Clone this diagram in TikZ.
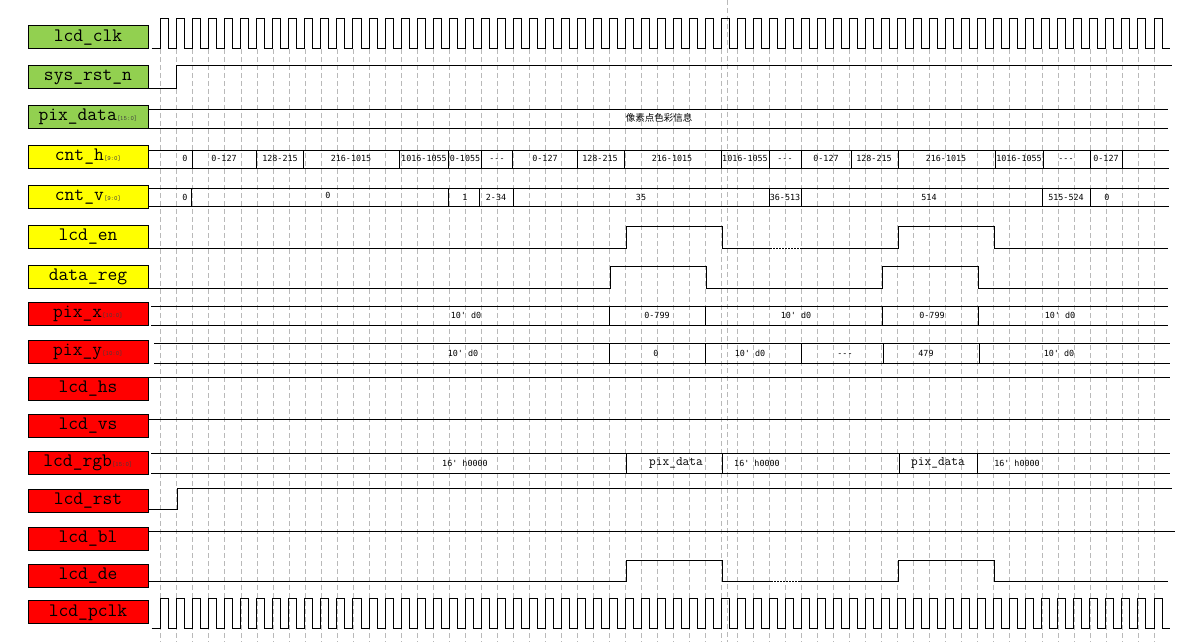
\documentclass[tikz,border=0pt]{standalone}
\usepackage{fontspec}
\usepackage{xcolor}
\newfontfamily\valfont{DejaVu Sans Mono}
\newfontfamily\cjk{Noto Sans CJK SC}
\definecolor{lgreen}{HTML}{92D050}
\definecolor{lyellow}{HTML}{FFFF00}
\definecolor{lred}{HTML}{FF0000}
\newcommand{\bw}[1]{{\fontsize{6.5}{6.5}\selectfont\color{black!75}[#1]}}
\newcommand{\dd}{-\kern0pt-\kern0pt-}

\begin{document}
\begin{tikzpicture}[x=1pt,y=-1pt]
	\tikzset{lbl/.style = {draw, line width=0.9pt, minimum width=120pt, minimum height=23pt, inner sep=0pt, font=\ttfamily\fontsize{19}{19}\selectfont}}
	\tikzset{wave/.style = {line width=0.9pt}}
	\tikzset{gridline/.style = {gray!55, line width=0.6pt, dash pattern=on 5pt off 3pt}}
	\tikzset{val/.style = {inner sep=0pt, text height=6pt, text depth=0pt, font=\valfont\fontsize{8.4}{9}\selectfont}}
	\useasboundingbox (0,0) rectangle (1203,642);
	%grid
	\foreach \i in {0,...,62}
		\draw[gridline] ({160.7+16.02*\i},49) -- ({160.7+16.02*\i},642);
	\draw[gridline] (727.3,0) -- (727.3,642);
	%labels
	\node[lbl,fill=lgreen] (clk) at (88,37.3) {lcd\_clk};
	\node[lbl,fill=lgreen] (rst) at (88,77.3) {sys\_rst\_n};
	\node[lbl,fill=lgreen] (pixdata) at (88,116.7) {pix\_data\bw{15:0}};
	\node[lbl,fill=lyellow] (cnth) at (88,156.8) {cnt\_h\bw{9:0}};
	\node[lbl,fill=lyellow] (cntv) at (88,196.8) {cnt\_v\bw{9:0}};
	\node[lbl,fill=lyellow] (en) at (88,236.7) {lcd\_en};
	\node[lbl,fill=lyellow] (datareg) at (88,277) {data\_reg};
	\node[lbl,fill=lred] (pixx) at (88,314) {pix\_x\bw{10:0}};
	\node[lbl,fill=lred] (pixy) at (88,352) {pix\_y\bw{10:0}};
	\node[lbl,fill=lred] (hs) at (88,388.8) {lcd\_hs};
	\node[lbl,fill=lred] (vs) at (88,425.7) {lcd\_vs};
	\node[lbl,fill=lred] (rgb) at (88,463.3) {lcd\_rgb\bw{15:0}};
	\node[lbl,fill=lred] (lrst) at (88,500.8) {lcd\_rst};
	\node[lbl,fill=lred] (bl) at (88,538.8) {lcd\_bl};
	\node[lbl,fill=lred] (de) at (88,575.8) {lcd\_de};
	\node[lbl,fill=lred] (pclk) at (88,612.3) {lcd\_pclk};
	%clocks
	\draw[wave] (151.7,48.3) \foreach \i in {0,...,62} { -- ({160.7+16.02*\i},48.3) -- ++(0,-30) -- ++(8.01,0) -- ++(0,30) } -- (1170,48.3);
	\draw[wave] (151.7,628.8) \foreach \i in {0,...,62} { -- ({160.7+16.02*\i},628.8) -- ++(0,-30.5) -- ++(8.01,0) -- ++(0,30.5) } -- (1170,628.8);
	%resets and constant levels
	\draw[wave] (148,88.3) -- (176.7,88.3) -- (176.7,65.7) -- (1172,65.7);
	\draw[wave] (148,509) -- (177.3,509) -- (177.3,488.3) -- (1172,488.3);
	\draw[wave] (148,377.3) -- (1170,377.3);
	\draw[wave] (148,419) -- (1170,419);
	\draw[wave] (148,531) -- (1175,531);
	%pix_data
	\draw[wave] (148,109) -- (1168,109) (148,128) -- (1168,128);
	\node[inner sep=0pt, font=\cjk\fontsize{9.5}{10}\selectfont] (pixtxt) at (659,118) {像素点色彩信息};
	%cnt_h
	\draw[wave] (148,150) -- (1169,150) (148,168) -- (1169,168);
	\foreach \s in {192.7,256.3,303.3,399.5,448.3,481.7,512.7,577.3,624.3,721.3,769,801,851,898.3,995,1043.3,1090,1122.3}
		\draw[wave] (\s,150) -- (\s,168);
	\foreach \x/\t [count=\k] in {185/0,224/0-127,280/128-215,351/216-1015,424/1016-1055,465/0-1055,497/\dd,545/0-127,600/128-215,672/216-1015,745/1016-1055,785/\dd,826/0-127,874/128-215,946/216-1015,1019/1016-1055,1066/\dd,1106/0-127}
		\node[val] (h\k) at (\x,158.5) {\t};
	%cnt_v
	\draw[wave] (148,188.7) -- (1169,188.7) (148,206.7) -- (1169,206.7);
	\foreach \s in {191.7,448.3,479.3,513.3,769,801,1042.3,1090}
		\draw[wave] (\s,188.7) -- (\s,206.7);
	\foreach \x/\y/\t [count=\k] in {185/197.5/0,328/195.5/0,465/197.5/1,496/197.5/2-34,641/197.5/35,785/197.5/36-513,929/197.5/514,1066/197.5/515-524,1107/197.5/0}
		\node[val] (v\k) at (\x,\y) {\t};
	%lcd_en
	\draw[wave] (148,248.3) -- (626.7,248.3) -- (626.7,226) -- (722.3,226) -- (722.3,248.3) -- (770,248.3);
	\draw[wave, dash pattern=on 1.5pt off 1.5pt] (770,248.3) -- (801,248.3);
	\draw[wave] (801,248.3) -- (898.3,248.3) -- (898.3,226) -- (994.3,226) -- (994.3,248.3) -- (1168,248.3);
	%data_reg
	\draw[wave] (148,288.3) -- (610,288.3) -- (610,266.7) -- (706,266.7) -- (706,288.3) -- (882.3,288.3) -- (882.3,266.7) -- (978.3,266.7) -- (978.3,288.3) -- (1168,288.3);
	%pix_x
	\draw[wave] (151,306.3) -- (1168,306.3) (151,325.3) -- (1168,325.3);
	\foreach \s in {609.3,705.3,882.3,978.7}
		\draw[wave] (\s,306.3) -- (\s,325.3);
	\foreach \x/\t [count=\k] in {466/10' d0,657/0-799,796/10' d0,932/0-799,1060/10' d0}
		\node[val] (x\k) at (\x,315.8) {\t};
	%pix_y
	\draw[wave] (154,343.3) -- (1170,343.3) (154,363.3) -- (1170,363.3);
	\foreach \s in {609.3,705.3,801.7,883.3,979.3}
		\draw[wave] (\s,343.3) -- (\s,363.3);
	\foreach \x/\t [count=\k] in {463/10' d0,656/0,750/10' d0,845/\dd,926/479,1059/10' d0}
		\node[val] (y\k) at (\x,353.3) {\t};
	%lcd_rgb
	\draw[wave] (151,453.5) -- (1170,453.5) (151,473.3) -- (1170,473.3);
	\foreach \s in {626.7,722.3,899.3,977.3}
		\draw[wave] (\s,453.5) -- (\s,473.3);
	\foreach \x/\t [count=\k] in {465/16' h0000,757/16' h0000,1017/16' h0000}
		\node[val] (r\k) at (\x,463.4) {\t};
	\node[inner sep=0pt, font=\ttfamily\fontsize{13}{13}\selectfont] (rpix1) at (676,463.4) {pix\_data};
	\node[inner sep=0pt, font=\ttfamily\fontsize{13}{13}\selectfont] (rpix2) at (938,463.4) {pix\_data};
	%lcd_de
	\draw[wave] (148,581.5) -- (626,581.5) -- (626,560) -- (722.3,560) -- (722.3,581.5) -- (771,581.5);
	\draw[wave, dash pattern=on 1.5pt off 1.5pt] (771,581.5) -- (800,581.5);
	\draw[wave] (800,581.5) -- (898.3,581.5) -- (898.3,560) -- (994.3,560) -- (994.3,581.5) -- (1168,581.5);
\end{tikzpicture}
\end{document}
